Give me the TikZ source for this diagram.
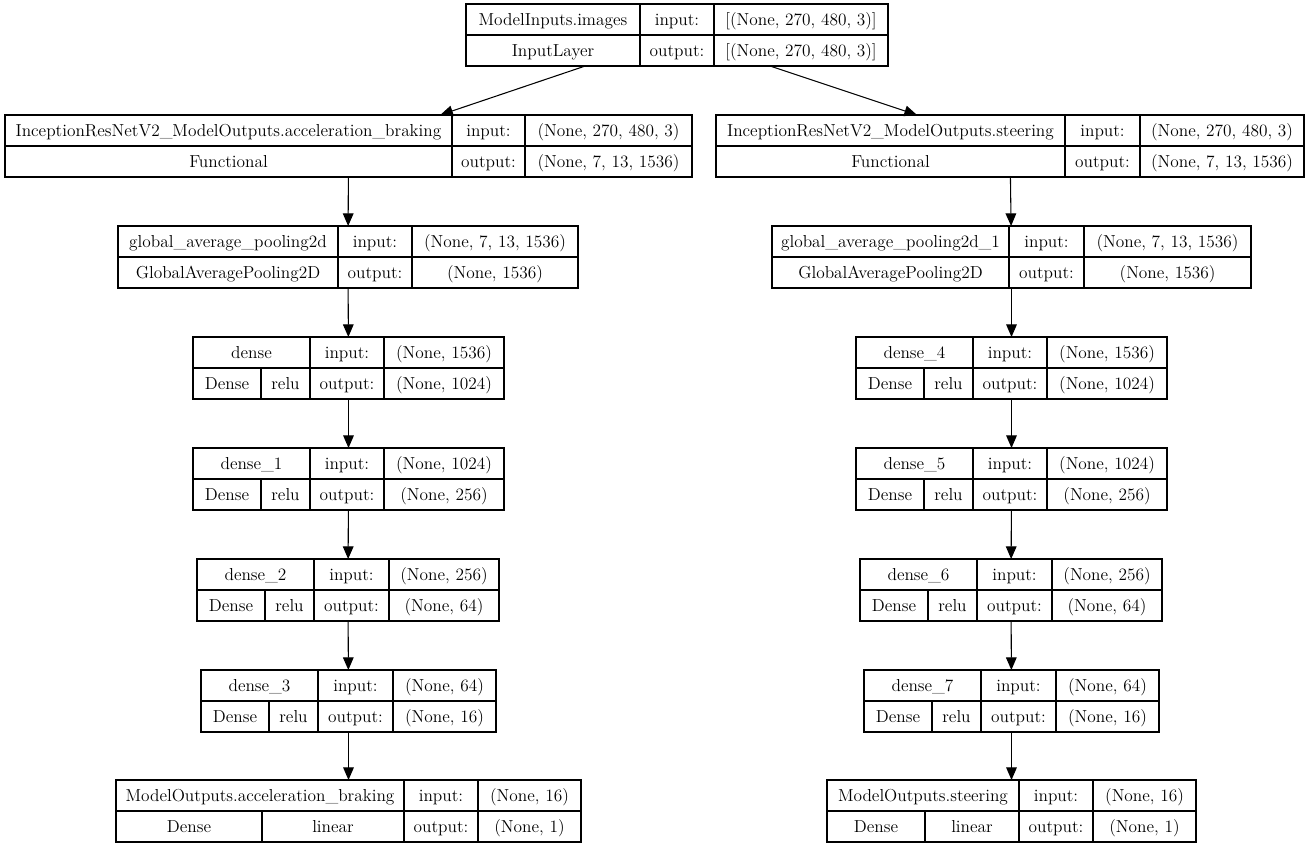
\documentclass[tikz,border=0pt]{standalone}
\usetikzlibrary{arrows.meta,calc}

\tikzset{
  layerbox/.style={draw, line width=0.9pt, inner sep=0pt, outer sep=0pt, minimum height=46.5pt},
  cell/.style={line width=0.9pt},
  txt/.style={font=\fontsize{13}{15}\selectfont, inner sep=0pt, text height=9.5pt, text depth=1pt},
  arr/.style={-{Triangle[length=9.5pt,width=8pt]}, line width=0.8pt},
}

% name, left, div1, div2, right, top, title, input shape, output shape
\newcommand{\netlayer}[9]{%
  \node[layerbox, minimum width={(#5-#2)*0.75pt}] (#1) at ({(#2+#5)/2},{#6+31}) {};
  \draw[cell] (#2,{#6+31}) -- (#5,{#6+31}) (#3,#6) -- (#3,{#6+62}) (#4,#6) -- (#4,{#6+62});
  \node[txt] (#1-title) at ({(#2+#3)/2},{#6+15.5}) {#7};
  \node[txt] (#1-in) at ({(#3+#4)/2},{#6+15.5}) {input:};
  \node[txt] (#1-inval) at ({(#4+#5)/2},{#6+15.5}) {#8};
  \node[txt] (#1-out) at ({(#3+#4)/2},{#6+46.5}) {output:};
  \node[txt] (#1-outval) at ({(#4+#5)/2},{#6+46.5}) {#9};
  \coordinate (#1-k) at ({(#2+#3)/2},{#6+46.5});
  \coordinate (#1-sw) at (#2,{#6+62});
  \coordinate (#1-sd) at (#3,{#6+62});
  \coordinate (#1-md) at (#3,{#6+31});
}
% name, x of split, layer type, activation
\newcommand{\splitcell}[4]{%
  \draw[cell] (#2,0 |- #1-md) -- (#2,0 |- #1-sw);
  \node[txt] (#1-type) at ($(#1-sw)!0.5!(#2,0 |- #1-sw)+(0,-15.5)$) {#3};
  \node[txt] (#1-act) at ($(#1-sd)!0.5!(#2,0 |- #1-sw)+(0,-15.5)$) {#4};
}

\begin{document}
\begin{tikzpicture}[x=0.75pt, y=-0.75pt]
  \useasboundingbox (0,0) rectangle (1312,848);

  % input
  \netlayer{inp}{466}{640}{714}{888}{4}{ModelInputs.images}{[(None, 270, 480, 3)]}{[(None, 270, 480, 3)]}
  \node[txt] (inp-kind) at (inp-k) {InputLayer};

  % acceleration / braking branch
  \netlayer{incA}{5}{452}{525}{692}{115}{InceptionResNetV2\_ModelOutputs.acceleration\_braking}{(None, 270, 480, 3)}{(None, 7, 13, 1536)}
  \node[txt] (incA-kind) at (incA-k) {Functional};
  \netlayer{gapA}{118}{338}{412}{578}{226}{global\_average\_pooling2d}{(None, 7, 13, 1536)}{(None, 1536)}
  \node[txt] (gapA-kind) at (gapA-k) {GlobalAveragePooling2D};
  \netlayer{dense}{193}{310}{384}{504}{337}{dense}{(None, 1536)}{(None, 1024)}
  \splitcell{dense}{261}{Dense}{relu}
  \netlayer{dense1}{193}{310}{384}{504}{448}{dense\_1}{(None, 1024)}{(None, 256)}
  \splitcell{dense1}{261}{Dense}{relu}
  \netlayer{dense2}{197}{314}{389}{499}{559}{dense\_2}{(None, 256)}{(None, 64)}
  \splitcell{dense2}{265}{Dense}{relu}
  \netlayer{dense3}{201}{318}{393}{496}{670}{dense\_3}{(None, 64)}{(None, 16)}
  \splitcell{dense3}{269}{Dense}{relu}
  \netlayer{outA}{116}{404}{478}{581}{780}{ModelOutputs.acceleration\_braking}{(None, 16)}{(None, 1)}
  \splitcell{outA}{262}{Dense}{linear}

  % steering branch
  \netlayer{incS}{716}{1065}{1140}{1304}{115}{InceptionResNetV2\_ModelOutputs.steering}{(None, 270, 480, 3)}{(None, 7, 13, 1536)}
  \node[txt] (incS-kind) at (incS-k) {Functional};
  \netlayer{gapS}{772}{1009}{1084}{1251}{226}{global\_average\_pooling2d\_1}{(None, 7, 13, 1536)}{(None, 1536)}
  \node[txt] (gapS-kind) at (gapS-k) {GlobalAveragePooling2D};
  \netlayer{dense4}{856}{973}{1047}{1167}{337}{dense\_4}{(None, 1536)}{(None, 1024)}
  \splitcell{dense4}{924}{Dense}{relu}
  \netlayer{dense5}{856}{973}{1047}{1167}{448}{dense\_5}{(None, 1024)}{(None, 256)}
  \splitcell{dense5}{924}{Dense}{relu}
  \netlayer{dense6}{860}{977}{1052}{1162}{559}{dense\_6}{(None, 256)}{(None, 64)}
  \splitcell{dense6}{928}{Dense}{relu}
  \netlayer{dense7}{864}{981}{1056}{1159}{670}{dense\_7}{(None, 64)}{(None, 16)}
  \splitcell{dense7}{932}{Dense}{relu}
  \netlayer{outS}{827}{1019}{1093}{1196}{780}{ModelOutputs.steering}{(None, 16)}{(None, 1)}
  \splitcell{outS}{925}{Dense}{linear}

  % connectors
  \draw[arr] (inp) -- (incA);
  \draw[arr] (inp) -- (incS);
  \foreach \a/\b in {incA/gapA, gapA/dense, dense/dense1, dense1/dense2, dense2/dense3, dense3/outA,
                     incS/gapS, gapS/dense4, dense4/dense5, dense5/dense6, dense6/dense7, dense7/outS}
    \draw[arr] (\a) -- (\b);
\end{tikzpicture}
\end{document}
